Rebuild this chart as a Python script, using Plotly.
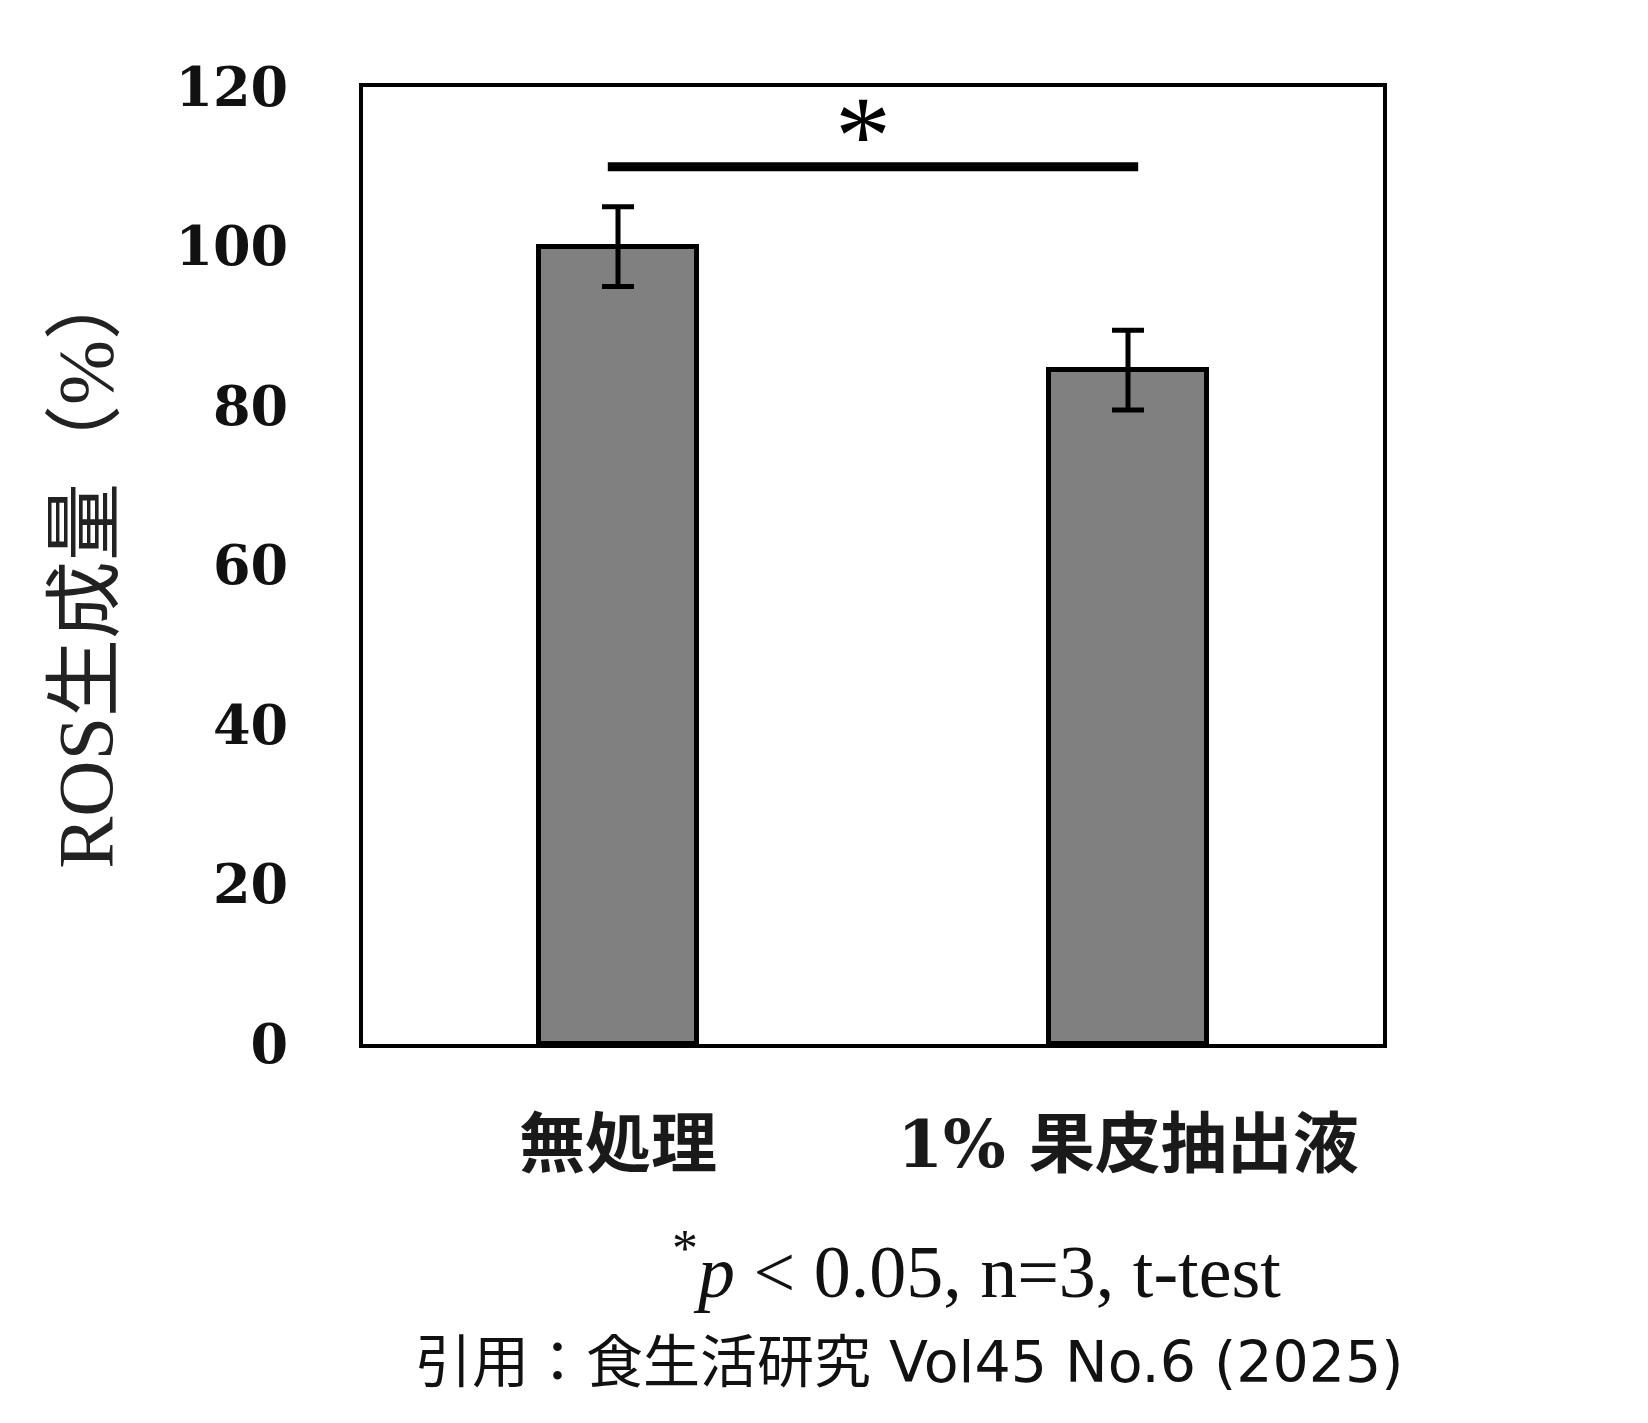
import plotly.graph_objects as go

# data
categories = ["無処理", "1% 果皮抽出液"]
x_pos = [0, 1]
ros_values = [100.0, 84.5]
ros_err = [5.0, 5.0]
y_ticks = [0, 20, 40, 60, 80, 100, 120]

# significance bracket
sig_x = [-0.02, 1.02]
sig_y = [110, 110]
sig_mark_x = 0.48
sig_mark_y = 114

fig = go.Figure()

fig.add_trace(go.Bar(
    x=x_pos, y=ros_values, width=0.31,
    marker=dict(color="#808080", line=dict(color="black", width=5)),
    error_y=dict(type="data", array=ros_err, visible=True,
                 color="black", thickness=5, width=16),
    showlegend=False,
))

fig.add_trace(go.Scatter(
    x=sig_x, y=sig_y, mode="lines",
    line=dict(color="black", width=9),
    showlegend=False, hoverinfo="skip",
))

fig.add_annotation(x=sig_mark_x, y=sig_mark_y, xref="x", yref="y", text="*",
                   showarrow=False, yanchor="middle",
                   font=dict(family="Liberation Serif", size=112, color="black"))

fig.update_xaxes(
    range=[-0.5, 1.5], tickvals=x_pos, ticktext=categories,
    showline=True, linecolor="black", linewidth=4, mirror=True,
    showgrid=False, zeroline=False, ticks="",
    ticklabelstandoff=40,
    tickfont=dict(family="DejaVu Serif, Noto Sans CJK JP", size=66, color="#1a1a1a", weight="bold"),
)
fig.update_yaxes(
    range=[0, 120], tickvals=y_ticks,
    showline=True, linecolor="black", linewidth=4, mirror=True,
    showgrid=False, zeroline=False, ticks="",
    ticklabelstandoff=60,
    tickfont=dict(family="DejaVu Serif", size=54, color="#111111", weight="bold"),
)

# y axis title
fig.add_annotation(x=-0.317, y=0.50, xref="paper", yref="paper",
                   text="ROS生成量（%）", textangle=-90, showarrow=False,
                   font=dict(family="Liberation Serif, Noto Sans CJK JP", size=78, color="#222222"))

# footnotes
fig.add_annotation(x=0.601, y=-0.283, xref="paper", yref="paper",
                   text="<sup>*</sup><i>p</i> < 0.05, n=3, t-test", showarrow=False,
                   font=dict(family="Liberation Serif", size=74, color="#111111"))
fig.add_annotation(x=0.536, y=-0.369, xref="paper", yref="paper",
                   text="引用：食生活研究 Vol45 No.6 (2025)", showarrow=False,
                   font=dict(family="DejaVu Sans, Noto Sans CJK JP", size=57, color="#111111"))

fig.update_layout(
    width=1648, height=1423,
    margin=dict(l=355, r=273, t=79, b=387),
    plot_bgcolor="white", paper_bgcolor="white",
    bargap=0,
)

fig.write_html("out.html")
